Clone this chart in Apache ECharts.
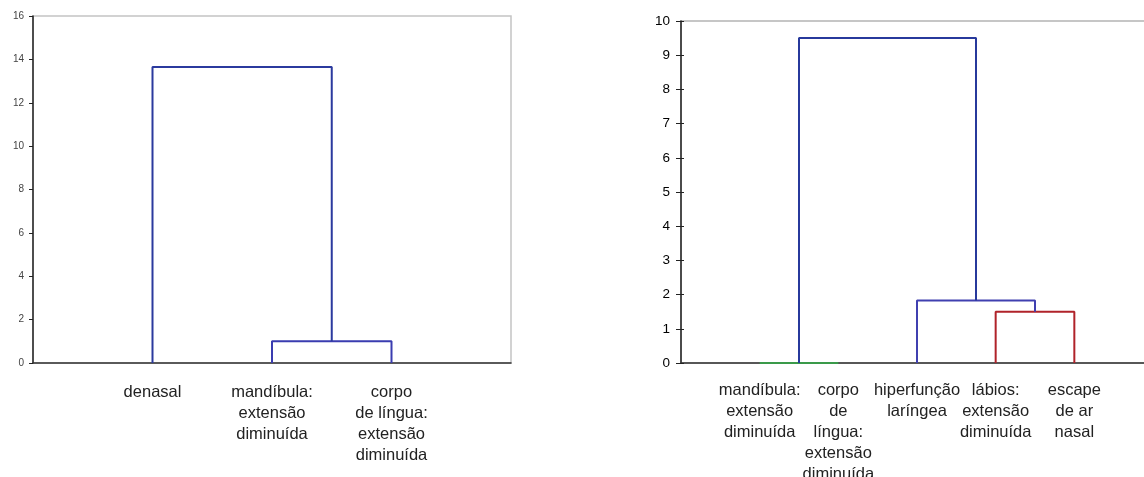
<!DOCTYPE html>
<html>
<head>
<meta charset="utf-8">
<script src="https://cdn.jsdelivr.net/npm/echarts@6/dist/echarts.min.js"></script>
<style>
  html, body { margin: 0; padding: 0; background: #fff; }
  #chart { width: 1144px; height: 477px; }
</style>
</head>
<body>
<div id="chart"></div>
<script>
// Leaf labels of the two dendrograms, in plotting order
const leftLeaves = [
  'denasal',
  'mandíbula:\nextensão\ndiminuída',
  'corpo\nde língua:\nextensão\ndiminuída'
];
const rightLeaves = [
  'mandíbula:\nextensão\ndiminuída',
  'corpo\nde\nlíngua:\nextensão\ndiminuída',
  'hiperfunção\nlaríngea',
  'lábios:\nextensão\ndiminuída',
  'escape\nde ar\nnasal'
];

// Merge steps: [cluster a, cluster b, linkage distance]
// indices < n are leaves, index n + k is the cluster made at step k
const leftMerges = [
  [1, 2, 1.0],
  [0, 3, 13.65]
];
const rightMerges = [
  [0, 1, 0.0],
  [3, 4, 1.5],
  [2, 6, 1.83],
  [5, 7, 9.5]
];

// Distance axis ticks
const leftTicks = { min: 0, max: 16, step: 2 };
const rightTicks = { min: 0, max: 10, step: 1 };

// Colour of each merge link
const leftColors = ['#3a3cb0', '#2b3a9e'];
const rightColors = ['#3a9a4a', '#b0232a', '#4040b0', '#27399c'];

// Turn merge steps into the four-point "⊓" paths of a dendrogram
function buildLinks(leaves, merges) {
  const pos = leaves.map((_, i) => ({ x: i + 1, y: 0 }));
  return merges.map(([a, b, h]) => {
    const A = pos[a], B = pos[b];
    pos.push({ x: (A.x + B.x) / 2, y: h });
    return [[A.x, A.y], [A.x, h], [B.x, h], [B.x, B.y]];
  });
}

const leftLinks = buildLinks(leftLeaves, leftMerges);
const rightLinks = buildLinks(rightLeaves, rightMerges);

const labelFont = 'Liberation Sans, Arial, sans-serif';

function leafAxis(gridIndex, leaves, max, margin) {
  return {
    type: 'value', gridIndex, min: 0, max, interval: 1,
    axisLine: { show: true, onZero: false, lineStyle: { color: '#333', width: 1.5 } },
    axisTick: { show: false },
    splitLine: { show: false },
    axisLabel: {
      margin,
      fontFamily: labelFont, fontSize: 16.5, lineHeight: 21, color: '#222',
      showMinLabel: true, showMaxLabel: true,
      formatter: v => leaves[Math.round(v) - 1] || ''
    }
  };
}

const option = {
  animation: false,
  backgroundColor: '#fff',
  grid: [
    { left: 33, top: 16, width: 478, height: 347, show: true,
      borderColor: '#c4c4c4', borderWidth: 1.5,
      containLabel: false, outerBoundsMode: 'none' },
    { left: 681, top: 21, width: 472, height: 342, show: true,
      borderColor: '#b4b4b4', borderWidth: 1.5,
      containLabel: false, outerBoundsMode: 'none' }
  ],
  xAxis: [
    leafAxis(0, leftLeaves, leftLeaves.length + 1, 19),
    leafAxis(1, rightLeaves, rightLeaves.length + 1, 17)
  ],
  yAxis: [
    {
      type: 'value', gridIndex: 0, min: leftTicks.min, max: leftTicks.max, interval: leftTicks.step,
      axisLine: { show: true, lineStyle: { color: '#222', width: 1.5 } },
      axisTick: { show: true, length: 4, lineStyle: { color: '#222', width: 1 } },
      splitLine: { show: false },
      axisLabel: { margin: 9, fontFamily: labelFont, fontSize: 10, color: '#444' }
    },
    {
      type: 'value', gridIndex: 1, min: rightTicks.min, max: rightTicks.max, interval: rightTicks.step,
      axisLine: { show: true, lineStyle: { color: '#222', width: 1.5 } },
      axisTick: { show: true, length: 5, lineStyle: { color: '#222', width: 1 } },
      splitLine: { show: false },
      axisLabel: { margin: 11, fontFamily: labelFont, fontSize: 13.5, color: '#000' }
    },
    {
      // inner half of the crossing tick marks
      type: 'value', gridIndex: 1, min: rightTicks.min, max: rightTicks.max, interval: rightTicks.step,
      position: 'left', offset: 0,
      axisLine: { show: false },
      axisTick: { show: true, inside: true, length: 3, lineStyle: { color: '#222', width: 1 } },
      axisLabel: { show: false },
      splitLine: { show: false }
    }
  ],
  series: [
    ...leftLinks.map((path, i) => ({
      type: 'line', xAxisIndex: 0, yAxisIndex: 0, data: path,
      showSymbol: false, silent: true, clip: false,
      lineStyle: { color: leftColors[i], width: 2 }
    })),
    ...rightLinks.map((path, i) => ({
      type: 'line', xAxisIndex: 1, yAxisIndex: 1, data: path,
      showSymbol: false, silent: true, clip: false,
      lineStyle: { color: rightColors[i], width: 2 }
    }))
  ]
};

echarts.init(document.getElementById('chart'), null, { renderer: 'canvas' }).setOption(option);
</script>
</body>
</html>
